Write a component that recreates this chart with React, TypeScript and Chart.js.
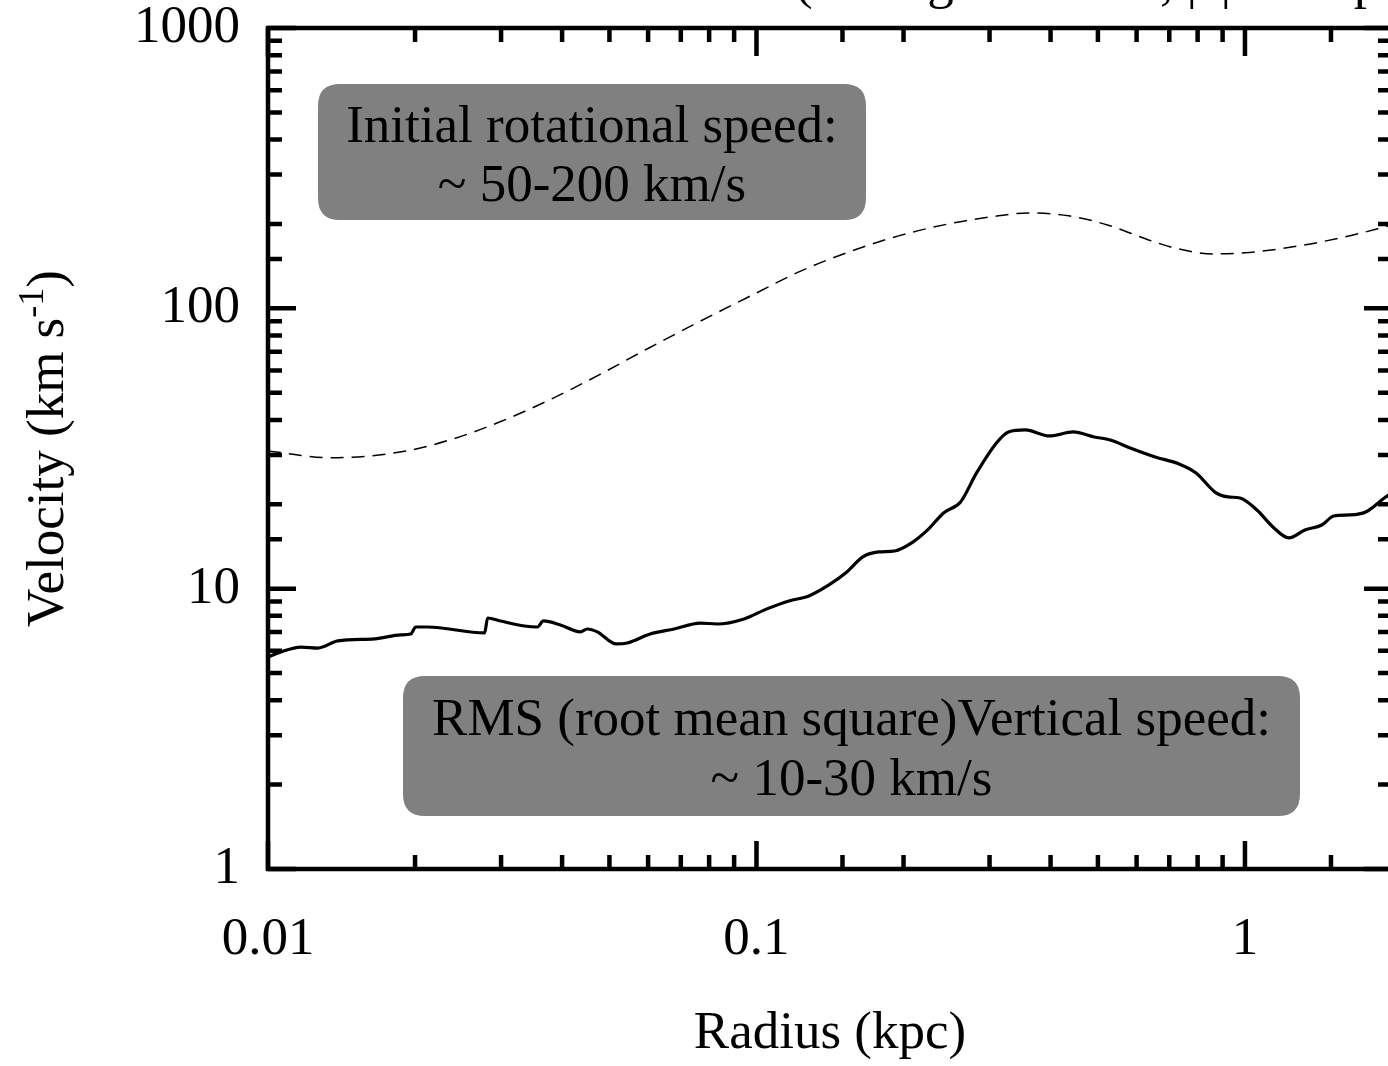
import React, { useEffect, useRef } from 'react';
import { Chart, registerables } from 'chart.js';

Chart.register(...registerables);

// Initial rotational speed profile (dashed curve)
const rotRadius = [0.01, 0.01339, 0.01861, 0.02354, 0.02977, 0.03765, 0.04762, 0.06023, 0.07617, 0.1, 0.1221, 0.1545, 0.1954, 0.2472, 0.3126, 0.3603, 0.4356, 0.5248, 0.635, 0.731, 0.8622, 1.0, 1.2908, 1.6336, 2.0];
const rotSpeed = [31.0, 29.3, 30.7, 33.9, 39.3, 47.1, 57.9, 72.2, 89.4, 113.5, 134.9, 158.8, 181.3, 200.0, 213.8, 219.0, 213.8, 198.0, 175.4, 162.9, 156.4, 157.8, 167.0, 181.3, 198.0];

// RMS vertical speed profile (solid curve)
const rmsRadius = [0.01, 0.01063, 0.011679, 0.012654, 0.0139, 0.016546, 0.018695, 0.019599, 0.020066, 0.021222, 0.027763, 0.028157, 0.029923, 0.033497, 0.035612, 0.03663, 0.039685, 0.043598, 0.045057, 0.047225, 0.051648, 0.054391, 0.060582, 0.067836, 0.076659, 0.08306, 0.094301, 0.10506, 0.11652, 0.12801, 0.14068, 0.15309, 0.16504, 0.17793, 0.19183, 0.20783, 0.22406, 0.24154, 0.26171, 0.28219, 0.30993, 0.32791, 0.35524, 0.3977, 0.44522, 0.49139, 0.53012, 0.58223, 0.6549, 0.73303, 0.79407, 0.87263, 0.92314, 0.97677, 1.0581, 1.1408, 1.2301, 1.3263, 1.4364, 1.5197, 1.6387, 1.7668, 1.941, 2.0];
const rmsSpeed = [5.70, 5.95, 6.19, 6.14, 6.51, 6.62, 6.84, 6.89, 7.30, 7.30, 6.95, 7.86, 7.67, 7.36, 7.30, 7.67, 7.42, 7.01, 7.18, 7.01, 6.35, 6.40, 6.89, 7.18, 7.54, 7.48, 7.80, 8.47, 9.04, 9.42, 10.31, 11.47, 12.98, 13.52, 13.63, 14.56, 16.20, 18.63, 20.39, 25.87, 33.10, 36.23, 36.84, 35.06, 36.23, 34.77, 33.93, 31.77, 29.51, 27.86, 25.87, 21.95, 21.24, 21.06, 19.09, 16.60, 15.17, 16.20, 16.87, 18.17, 18.32, 18.77, 21.24, 22.0];

// Labelled decades on each axis
const xTickValues = [0.01, 0.1, 1];
const xTickLabels = ['0.01', '0.1', '1'];
const yTickValues = [1, 10, 100, 1000];
const yTickLabels = ['1', '10', '100', '1000'];

// Text
const topNote = '(averaged in bins, |z| < 1 kpc)';
const xTitle = 'Radius (kpc)';
const yTitleParts = ['Velocity (km s', '-1', ')'];
const rotBoxLines = ['Initial rotational speed:', '~ 50-200 km/s'];
const rmsBoxLines = ['RMS (root mean square)Vertical speed:', '~ 10-30 km/s'];

const SERIF = '"Liberation Serif", "Times New Roman", serif';

const isDecade = (v: number, list: number[]) =>
  list.findIndex((d) => Math.abs(Math.log10(d) - Math.log10(v)) < 1e-6);

function roundBox(ctx: CanvasRenderingContext2D, x: number, y: number, w: number, h: number, r: number) {
  ctx.beginPath();
  ctx.moveTo(x + r, y);
  ctx.lineTo(x + w - r, y);
  ctx.quadraticCurveTo(x + w, y, x + w, y + r);
  ctx.lineTo(x + w, y + h - r);
  ctx.quadraticCurveTo(x + w, y + h, x + w - r, y + h);
  ctx.lineTo(x + r, y + h);
  ctx.quadraticCurveTo(x, y + h, x, y + h - r);
  ctx.lineTo(x, y + r);
  ctx.quadraticCurveTo(x, y, x + r, y);
  ctx.closePath();
}

function labelBox(ctx: CanvasRenderingContext2D, x: number, y: number, w: number, h: number, lines: string[], baselines: number[]) {
  ctx.fillStyle = '#808080';
  roundBox(ctx, x, y, w, h, 22);
  ctx.fill();
  ctx.fillStyle = '#000';
  ctx.font = `53px ${SERIF}`;
  ctx.textAlign = 'center';
  ctx.textBaseline = 'alphabetic';
  lines.forEach((t, i) => ctx.fillText(t, x + w / 2, baselines[i]));
}

// Frame with inward major/minor ticks on all four sides, plus annotations
const framePlugin = {
  id: 'frameTicks',
  afterDatasetsDraw(chart: any) {
    const { ctx, chartArea: a, scales } = chart;
    const xs = scales.x;
    const ys = scales.y;
    ctx.save();

    labelBox(ctx, 318, 84, 548, 136, rotBoxLines, [142, 201]);
    labelBox(ctx, 403, 676, 897, 140, rmsBoxLines, [735, 795]);

    ctx.strokeStyle = '#000';
    ctx.lineWidth = 4.5;
    ctx.lineCap = 'butt';
    const major = 28;
    const minor = 14;
    xs.ticks.forEach((t: any) => {
      const px = xs.getPixelForValue(t.value);
      const len = isDecade(t.value, xTickValues) >= 0 ? major : minor;
      ctx.beginPath();
      ctx.moveTo(px, a.bottom);
      ctx.lineTo(px, a.bottom - len);
      ctx.moveTo(px, a.top);
      ctx.lineTo(px, a.top + len);
      ctx.stroke();
    });
    ys.ticks.forEach((t: any) => {
      const py = ys.getPixelForValue(t.value);
      const len = isDecade(t.value, yTickValues) >= 0 ? major : minor;
      ctx.beginPath();
      ctx.moveTo(a.left, py);
      ctx.lineTo(a.left + len, py);
      ctx.moveTo(a.right, py);
      ctx.lineTo(a.right - len, py);
      ctx.stroke();
    });
    ctx.strokeRect(a.left, a.top, a.right - a.left, a.bottom - a.top);

    // note above the frame
    ctx.fillStyle = '#000';
    ctx.font = `53px ${SERIF}`;
    ctx.textAlign = 'left';
    ctx.textBaseline = 'alphabetic';
    ctx.fillText(topNote, 795, -2);

    // y-axis title with superscript
    ctx.translate(63, (a.top + a.bottom) / 2);
    ctx.rotate(-Math.PI / 2);
    const big = `53px ${SERIF}`;
    const small = `36px ${SERIF}`;
    ctx.font = big;
    const w0 = ctx.measureText(yTitleParts[0]).width;
    const w2 = ctx.measureText(yTitleParts[2]).width;
    ctx.font = small;
    const w1 = ctx.measureText(yTitleParts[1]).width;
    let cx = -(w0 + w1 + w2) / 2;
    ctx.font = big;
    ctx.fillText(yTitleParts[0], cx, 0);
    cx += w0;
    ctx.font = small;
    ctx.fillText(yTitleParts[1], cx, -20);
    cx += w1;
    ctx.font = big;
    ctx.fillText(yTitleParts[2], cx, 0);
    ctx.restore();
  },
};

export default function App() {
  const ref = useRef<HTMLCanvasElement>(null);

  useEffect(() => {
    const canvas = ref.current;
    if (!canvas) return;
    const tickFont = { family: SERIF, size: 53 };
    const chart = new Chart(canvas, {
      type: 'line',
      data: {
        datasets: [
          {
            label: 'Initial rotational speed',
            data: rotRadius.map((r, i) => ({ x: r, y: rotSpeed[i] })),
            borderColor: '#000',
            borderWidth: 1.5,
            borderDash: [13, 8],
            pointRadius: 0,
            cubicInterpolationMode: 'monotone',
            fill: false,
          },
          {
            label: 'RMS vertical speed',
            data: rmsRadius.map((r, i) => ({ x: r, y: rmsSpeed[i] })),
            borderColor: '#000',
            borderWidth: 3.2,
            pointRadius: 0,
            cubicInterpolationMode: 'monotone',
            fill: false,
          },
        ],
      },
      options: {
        responsive: false,
        devicePixelRatio: 1,
        animation: false,
        layout: { padding: { top: 28, right: 28, left: 0, bottom: 0 } },
        plugins: { legend: { display: false }, tooltip: { enabled: false } },
        scales: {
          x: {
            type: 'logarithmic',
            position: 'bottom',
            min: 0.01,
            max: 2,
            grid: { display: false, drawTicks: false },
            border: { display: false },
            ticks: {
              autoSkip: false,
              maxRotation: 0,
              padding: 39,
              color: '#000',
              font: tickFont,
              callback: (v: any) => {
                const i = isDecade(Number(v), xTickValues);
                return i >= 0 ? xTickLabels[i] : '';
              },
            },
            title: { display: true, text: xTitle, color: '#000', font: tickFont, padding: { top: 0, bottom: 0 } },
            afterFit: (s: any) => {
              s.height = 197;
              s.paddingLeft = 0;
              s.paddingRight = 0;
            },
          },
          y: {
            type: 'logarithmic',
            min: 1,
            max: 1000,
            grid: { display: false, drawTicks: false },
            border: { display: false },
            ticks: {
              autoSkip: false,
              padding: 28,
              color: '#000',
              font: tickFont,
              callback: (v: any) => {
                const i = isDecade(Number(v), yTickValues);
                return i >= 0 ? yTickLabels[i] : '';
              },
            },
            afterFit: (s: any) => {
              s.width = 268;
              s.paddingTop = 0;
              s.paddingBottom = 0;
            },
          },
        },
      },
      plugins: [framePlugin],
    } as any);
    return () => chart.destroy();
  }, []);

  return (
    <div style={{ position: 'absolute', left: 0, top: 0, width: 1388, height: 1066, overflow: 'hidden', background: '#fff' }}>
      <canvas ref={ref} width={1420} height={1066} style={{ display: 'block', width: 1420, height: 1066 }} />
    </div>
  );
}
